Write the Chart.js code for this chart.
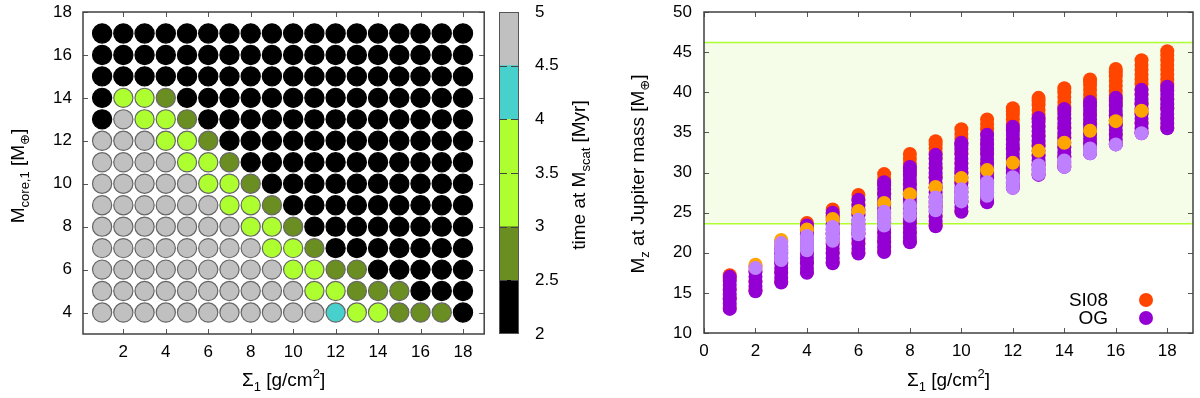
<!DOCTYPE html>
<html>
<head>
<meta charset="utf-8">
<script src="https://cdn.jsdelivr.net/npm/chart.js@4"></script>
<style>
  html, body { margin: 0; padding: 0; background: #fff; }
  body { width: 1200px; height: 398px; position: relative; overflow: hidden; }
  canvas { position: absolute; top: 0; }
</style>
</head>
<body>
<canvas id="gridChart" width="495" height="398" style="left:0px"></canvas>
<canvas id="cbChart" width="110" height="398" style="left:490px"></canvas>
<canvas id="mzChart" width="600" height="398" style="left:600px"></canvas>
<script>
// ---- left panel: time at M_scat for each (sigma, core mass) ----
const sigmaValues = [1, 2, 3, 4, 5, 6, 7, 8, 9, 10, 11, 12, 13, 14, 15, 16, 17, 18];
const coreMasses = [17, 16, 15, 14, 13, 12, 11, 10, 9, 8, 7, 6, 5, 4];
// Myr, one row per core mass (top to bottom)
const scatterTimes = [
  [2.3, 2.3, 2.3, 2.3, 2.3, 2.3, 2.3, 2.3, 2.3, 2.3, 2.3, 2.3, 2.3, 2.3, 2.3, 2.3, 2.3, 2.3],
  [2.3, 2.3, 2.3, 2.3, 2.3, 2.3, 2.3, 2.3, 2.3, 2.3, 2.3, 2.3, 2.3, 2.3, 2.3, 2.3, 2.3, 2.3],
  [2.3, 2.3, 2.3, 2.3, 2.3, 2.3, 2.3, 2.3, 2.3, 2.3, 2.3, 2.3, 2.3, 2.3, 2.3, 2.3, 2.3, 2.3],
  [2.3, 3.4, 3.4, 2.8, 2.3, 2.3, 2.3, 2.3, 2.3, 2.3, 2.3, 2.3, 2.3, 2.3, 2.3, 2.3, 2.3, 2.3],
  [2.3, 4.8, 3.4, 3.4, 2.8, 2.3, 2.3, 2.3, 2.3, 2.3, 2.3, 2.3, 2.3, 2.3, 2.3, 2.3, 2.3, 2.3],
  [4.8, 4.8, 4.8, 3.4, 3.4, 2.8, 2.3, 2.3, 2.3, 2.3, 2.3, 2.3, 2.3, 2.3, 2.3, 2.3, 2.3, 2.3],
  [4.8, 4.8, 4.8, 4.8, 3.4, 3.4, 2.8, 2.3, 2.3, 2.3, 2.3, 2.3, 2.3, 2.3, 2.3, 2.3, 2.3, 2.3],
  [4.8, 4.8, 4.8, 4.8, 4.8, 3.4, 3.4, 2.8, 2.3, 2.3, 2.3, 2.3, 2.3, 2.3, 2.3, 2.3, 2.3, 2.3],
  [4.8, 4.8, 4.8, 4.8, 4.8, 4.8, 3.4, 3.4, 2.8, 2.3, 2.3, 2.3, 2.3, 2.3, 2.3, 2.3, 2.3, 2.3],
  [4.8, 4.8, 4.8, 4.8, 4.8, 4.8, 4.8, 3.4, 3.4, 2.8, 2.3, 2.3, 2.3, 2.3, 2.3, 2.3, 2.3, 2.3],
  [4.8, 4.8, 4.8, 4.8, 4.8, 4.8, 4.8, 4.8, 3.4, 3.4, 2.8, 2.3, 2.3, 2.3, 2.3, 2.3, 2.3, 2.3],
  [4.8, 4.8, 4.8, 4.8, 4.8, 4.8, 4.8, 4.8, 4.8, 3.4, 3.4, 2.8, 2.8, 2.3, 2.3, 2.3, 2.3, 2.3],
  [4.8, 4.8, 4.8, 4.8, 4.8, 4.8, 4.8, 4.8, 4.8, 4.8, 3.4, 3.4, 2.8, 2.8, 2.8, 2.3, 2.3, 2.3],
  [4.8, 4.8, 4.8, 4.8, 4.8, 4.8, 4.8, 4.8, 4.8, 4.8, 4.8, 4.2, 3.4, 3.4, 2.8, 2.8, 2.8, 2.3]
];
const gridXTicks = [2, 4, 6, 8, 10, 12, 14, 16, 18];
const gridYTicks = [4, 6, 8, 10, 12, 14, 16, 18];

// colour bar
const cbLevels = [2, 2.5, 3, 3.5, 4, 4.5, 5];
const cbColors = ['#000000', '#6b8e23', '#adff2f', '#adff2f', '#48d1cc', '#c0c0c0'];

// ---- right panel: M_Z at Jupiter mass ----
const mzSigma = [1, 2, 3, 4, 5, 6, 7, 8, 9, 10, 11, 12, 13, 14, 15, 16, 17, 18];
const si08Values = [
  [13.1, 14.3, 15.5, 16.7, 17.2],
  [15.3, 16.5, 17.7, 18.3],
  [16.4, 17.6, 18.8, 20.0, 20.8, 21.4],
  [17.6, 18.8, 20.0, 21.2, 22.4, 23.1, 23.7],
  [18.8, 20.0, 21.2, 22.4, 23.6, 24.4, 24.9, 25.4],
  [20.0, 21.2, 22.4, 23.6, 24.8, 26.0, 26.6, 27.2],
  [20.2, 21.4, 22.6, 23.8, 25.0, 26.2, 27.4, 28.6, 29.2, 29.8],
  [21.4, 22.6, 23.8, 25.0, 26.2, 27.4, 28.6, 29.8, 30.5, 31.1, 31.7, 32.3],
  [23.4, 24.6, 25.8, 27.0, 28.2, 29.4, 30.6, 31.8, 32.4, 33.0, 33.5, 33.9],
  [25.2, 26.4, 27.6, 28.8, 30.0, 31.2, 32.4, 33.6, 34.2, 34.8, 35.4],
  [26.4, 27.6, 28.8, 30.0, 31.2, 32.4, 33.6, 34.8, 35.4, 36.0, 36.6],
  [28.2, 29.4, 30.6, 31.8, 33.0, 34.2, 35.4, 36.0, 36.6, 37.2, 37.6, 38.0],
  [29.8, 31.0, 32.2, 33.4, 34.6, 35.8, 36.6, 37.2, 37.8, 38.4, 38.9, 39.3],
  [30.8, 32.0, 33.2, 34.4, 35.6, 36.8, 37.6, 38.2, 38.8, 39.4, 40.0, 40.5],
  [32.5, 33.7, 34.9, 36.1, 37.3, 38.5, 39.1, 39.7, 40.3, 40.9, 41.3, 41.6],
  [33.6, 34.8, 36.0, 37.2, 38.4, 39.0, 39.6, 40.2, 40.8, 41.4, 42.0, 42.5, 42.9],
  [35.0, 36.2, 37.4, 38.6, 39.8, 40.4, 41.0, 41.6, 42.2, 42.8, 43.4, 44.0],
  [35.6, 36.8, 38.0, 39.2, 40.4, 41.0, 41.6, 42.2, 42.8, 43.4, 44.0, 44.6, 45.1]
];
const ogValues = [
  [13.0, 13.6, 14.2, 14.8, 15.4, 16.0, 16.5, 17.0],
  [15.2, 15.8, 16.4, 17.0, 17.6],
  [16.3, 16.9, 17.5, 18.1, 18.7, 19.3, 19.9, 20.4],
  [17.5, 18.1, 18.7, 19.3, 19.9, 20.5, 21.1, 21.7, 22.3, 22.9, 23.4],
  [18.7, 19.3, 19.9, 20.5, 21.1, 21.7, 22.3, 22.9, 23.5, 24.1, 24.6, 25.0],
  [19.9, 20.5, 21.1, 21.7, 22.3, 22.9, 23.5, 24.1, 24.7, 25.3, 25.9, 26.6],
  [20.1, 20.7, 21.3, 21.9, 22.5, 23.1, 23.7, 24.3, 24.9, 25.5, 26.1, 26.7, 27.3, 27.9, 28.4, 28.8],
  [21.3, 21.9, 22.5, 23.1, 23.7, 24.3, 24.9, 25.5, 26.1, 26.7, 27.3, 27.9, 28.5, 29.1, 29.7, 30.2, 30.7],
  [23.3, 23.9, 24.5, 25.1, 25.7, 26.3, 26.9, 27.5, 28.1, 28.7, 29.3, 29.9, 30.5, 31.1, 31.7, 32.2],
  [25.1, 25.7, 26.3, 26.9, 27.5, 28.1, 28.7, 29.3, 29.9, 30.5, 31.1, 31.7, 32.3, 32.9, 33.4, 33.7],
  [26.3, 26.9, 27.5, 28.1, 28.7, 29.3, 29.9, 30.5, 31.1, 31.7, 32.3, 32.9, 33.5, 34.1, 34.7],
  [28.1, 28.7, 29.3, 29.9, 30.5, 31.1, 31.7, 32.3, 32.9, 33.5, 34.1, 34.7, 35.2, 35.7],
  [29.7, 30.3, 30.9, 31.5, 32.1, 32.7, 33.3, 33.9, 34.5, 35.1, 35.7, 36.3, 36.8],
  [30.7, 31.3, 31.9, 32.5, 33.1, 33.7, 34.3, 34.9, 35.5, 36.1, 36.7, 37.3, 37.9],
  [32.4, 33.0, 33.6, 34.2, 34.8, 35.4, 36.0, 36.6, 37.2, 37.8, 38.3, 38.8],
  [33.5, 34.1, 34.7, 35.3, 35.9, 36.5, 37.1, 37.7, 38.3, 38.8, 39.3],
  [34.9, 35.5, 36.1, 36.7, 37.3, 37.9, 38.5, 39.1, 39.7, 40.3],
  [35.5, 36.1, 36.7, 37.3, 37.9, 38.5, 39.1, 39.7, 40.2, 40.7]
];
const highlightSigma = [2, 3, 4, 5, 6, 7, 8, 9, 10, 11, 12, 13, 14, 15, 16, 17];
const si08Highlight = [18.5, 21.6, 22.9, 24.2, 25.2, 26.2, 27.3, 28.2, 29.3, 30.3, 31.2, 32.7, 33.7, 35.2, 36.4, 37.7];
const ogHighlight = [
  [18.1],
  [19.1, 19.6, 20.2, 20.7, 21.2],
  [20.3, 20.8, 21.2, 21.7, 22.1],
  [21.5, 21.9, 22.3, 22.8, 23.2],
  [22.3, 22.8, 23.2, 23.7, 24.1],
  [23.4, 23.8, 24.2, 24.7, 25.1],
  [24.6, 25.2, 25.9],
  [25.3, 25.7, 26.1, 26.5, 26.9],
  [26.4, 26.8, 27.1, 27.5, 27.9],
  [27.1, 27.5, 27.9, 28.4, 28.8],
  [28.1, 28.8, 29.4],
  [29.8, 30.4, 30.9],
  [30.7, 31.1, 31.5],
  [32.4, 32.7, 33.0],
  [33.5],
  [34.9]
];
const bandEdges = [23.6, 46.2];
const mzXTicks = [0, 2, 4, 6, 8, 10, 12, 14, 16, 18];
const mzYTicks = [10, 15, 20, 25, 30, 35, 40, 45, 50];

const FONT = '"Liberation Sans", Arial, "DejaVu Sans", sans-serif';
const tickFont = { family: FONT, size: 17 };
const TITLE_SIZE = 19;
const SUB_SIZE = 13;

function bandColor(t) {
  for (let i = 0; i < cbColors.length; i++) {
    if (t >= cbLevels[i] && t < cbLevels[i + 1]) return cbColors[i];
  }
  return cbColors[cbColors.length - 1];
}

// text with sub/superscripts, centred on (x, y)
function drawRich(ctx, parts, x, y, rotated) {
  ctx.save();
  ctx.translate(x, y);
  if (rotated) ctx.rotate(-Math.PI / 2);
  ctx.fillStyle = '#000';
  ctx.textBaseline = 'alphabetic';
  ctx.textAlign = 'left';
  let total = 0;
  parts.forEach(p => {
    ctx.font = (p.sub || p.sup ? SUB_SIZE : TITLE_SIZE) + 'px ' + FONT;
    p.w = ctx.measureText(p.t).width;
    total += p.w;
  });
  let cx = -total / 2;
  parts.forEach(p => {
    ctx.font = (p.sub || p.sup ? SUB_SIZE : TITLE_SIZE) + 'px ' + FONT;
    const dy = p.sub ? 5 : (p.sup ? -8 : 0);
    ctx.fillText(p.t, cx, 7 + dy);
    cx += p.w;
  });
  ctx.restore();
}

const sigmaTitle = [{ t: 'Σ' }, { t: '1', sub: true }, { t: ' [g/cm' }, { t: '2', sup: true }, { t: ']' }];

// box frame with inward ticks on all four sides (gnuplot style)
function framePlugin(xTicks, yTicks, extra) {
  return {
    id: 'frame',
    afterDatasetsDraw(chart) {
      const { ctx, chartArea: a, scales } = chart;
      ctx.save();
      ctx.strokeStyle = '#555';
      ctx.lineWidth = 1;
      ctx.beginPath();
      xTicks.forEach(v => {
        const px = Math.round(scales.x.getPixelForValue(v)) + 0.5;
        ctx.moveTo(px, a.bottom); ctx.lineTo(px, a.bottom - 5);
        ctx.moveTo(px, a.top); ctx.lineTo(px, a.top + 5);
      });
      yTicks.forEach(v => {
        const py = Math.round(scales.y.getPixelForValue(v)) + 0.5;
        ctx.moveTo(a.left, py); ctx.lineTo(a.left + 5, py);
        ctx.moveTo(a.right, py); ctx.lineTo(a.right - 5, py);
      });
      ctx.stroke();
      ctx.strokeStyle = '#404040';
      ctx.lineWidth = 1.5;
      ctx.strokeRect(a.left, a.top, a.right - a.left, a.bottom - a.top);
      ctx.restore();
      if (extra) extra(chart);
    }
  };
}

function setTicks(list) {
  return scale => { scale.ticks = list.map(v => ({ value: v })); };
}
// fixed axis sizes, no extra label overhang padding
function fixY(width) {
  return s => { s.width = width; s.paddingTop = 0; s.paddingBottom = 0; };
}
function fixX(height) {
  return s => { s.height = height; s.paddingLeft = 0; s.paddingRight = 0; };
}

// ---------- left grid ----------
const gridPoints = [];
coreMasses.forEach((m, r) => {
  sigmaValues.forEach((s, c) => {
    gridPoints.push({ x: s, y: m, t: scatterTimes[r][c] });
  });
});

new Chart(document.getElementById('gridChart'), {
  type: 'scatter',
  data: {
    datasets: [{
      data: gridPoints,
      pointRadius: 9.6,
      pointBorderWidth: 1.2,
      backgroundColor: ctx => bandColor(ctx.raw.t),
      borderColor: ctx => (ctx.raw.t < 2.5 ? '#000' : '#666')
    }]
  },
  options: {
    responsive: false,
    animation: false,
    layout: { padding: { top: 12, right: 6, left: 0, bottom: 0 } },
    plugins: { legend: { display: false }, tooltip: { enabled: false } },
    scales: {
      x: {
        type: 'linear', min: 0.1, max: 19,
        afterBuildTicks: setTicks(gridXTicks),
        afterFit: fixX(64),
        grid: { display: false, drawTicks: false },
        border: { display: false },
        ticks: { font: tickFont, color: '#000', padding: 8, maxRotation: 0 }
      },
      y: {
        type: 'linear', min: 3, max: 18,
        afterBuildTicks: setTicks(gridYTicks),
        afterFit: fixY(83),
        grid: { display: false, drawTicks: false },
        border: { display: false },
        ticks: { font: tickFont, color: '#000', padding: 11 }
      }
    }
  },
  plugins: [framePlugin(gridXTicks, gridYTicks, chart => {
    const a = chart.chartArea;
    drawRich(chart.ctx, sigmaTitle, (a.left + a.right) / 2, 379, false);
    drawRich(chart.ctx, [{ t: 'M' }, { t: 'core,1', sub: true }, { t: ' [M' }, { t: '⊕', sub: true }, { t: ']' }], 17, 176, true);
  })]
});

// ---------- colour bar ----------
new Chart(document.getElementById('cbChart'), {
  type: 'bar',
  data: {
    labels: [''],
    datasets: cbColors.map((col, i) => ({
      data: [[cbLevels[i], cbLevels[i + 1]]],
      backgroundColor: col,
      borderWidth: 0,
      barPercentage: 1,
      categoryPercentage: 1
    }))
  },
  options: {
    responsive: false,
    animation: false,
    layout: { padding: { top: 12, left: 9, right: 0, bottom: 64 } },
    plugins: { legend: { display: false }, tooltip: { enabled: false } },
    scales: {
      x: { display: false, stacked: true },
      y: {
        position: 'right', min: 2, max: 5,
        afterBuildTicks: setTicks(cbLevels),
        afterFit: fixY(81),
        grid: { display: false, drawTicks: false },
        border: { display: false },
        ticks: { font: tickFont, color: '#000', padding: 16, callback: v => String(v) }
      }
    }
  },
  plugins: [{
    id: 'cbFrame',
    afterDatasetsDraw(chart) {
      const { ctx, chartArea: a, scales } = chart;
      ctx.save();
      ctx.strokeStyle = '#444';
      ctx.lineWidth = 1.2;
      ctx.beginPath();
      cbLevels.slice(1, -1).forEach(v => {
        const py = Math.round(scales.y.getPixelForValue(v)) + 0.5;
        ctx.moveTo(a.left, py); ctx.lineTo(a.left + 8, py);
        ctx.moveTo(a.right, py); ctx.lineTo(a.right - 8, py);
      });
      ctx.stroke();
      ctx.lineWidth = 1;
      ctx.strokeStyle = '#555';
      ctx.strokeRect(a.left + 0.5, a.top + 0.5, a.right - a.left - 1, a.bottom - a.top - 1);
      ctx.restore();
      drawRich(ctx, [{ t: 'time at M' }, { t: 'scat', sub: true }, { t: ' [Myr]' }], 88, 175, true);
    }
  }]
});

// ---------- right panel ----------
function flatten(xs, nested) {
  const out = [];
  xs.forEach((x, i) => nested[i].forEach(v => out.push({ x: x, y: v })));
  return out;
}

new Chart(document.getElementById('mzChart'), {
  type: 'scatter',
  data: {
    datasets: [
      {
        label: 'band top', type: 'line', showLine: true,
        data: [{ x: 0, y: bandEdges[1] }, { x: 19, y: bandEdges[1] }],
        borderColor: '#adff2f', borderWidth: 1.5, pointRadius: 0,
        backgroundColor: '#f5fde9', fill: '+1', order: 10
      },
      {
        label: 'band bottom', type: 'line', showLine: true,
        data: [{ x: 0, y: bandEdges[0] }, { x: 19, y: bandEdges[0] }],
        borderColor: '#adff2f', borderWidth: 1.5, pointRadius: 0,
        fill: false, order: 9
      },
      {
        label: 'SI08', data: flatten(mzSigma, si08Values),
        backgroundColor: '#ff4500', pointRadius: 7, pointBorderWidth: 0, order: 4
      },
      {
        label: 'OG', data: flatten(mzSigma, ogValues),
        backgroundColor: '#9400d3', pointRadius: 7, pointBorderWidth: 0, order: 3
      },
      {
        label: 'SI08 marked', data: highlightSigma.map((x, i) => ({ x: x, y: si08Highlight[i] })),
        backgroundColor: '#ffa500', pointRadius: 7, pointBorderWidth: 0, order: 2
      },
      {
        label: 'OG marked', data: flatten(highlightSigma, ogHighlight),
        backgroundColor: '#bf80ff', pointRadius: 7, pointBorderWidth: 0, order: 1
      }
    ]
  },
  options: {
    responsive: false,
    animation: false,
    layout: { padding: { top: 12, right: 7, left: 0, bottom: 0 } },
    plugins: { legend: { display: false }, tooltip: { enabled: false } },
    scales: {
      x: {
        type: 'linear', min: 0, max: 19,
        afterBuildTicks: setTicks(mzXTicks),
        afterFit: fixX(65),
        grid: { display: false, drawTicks: false },
        border: { display: false },
        ticks: { font: tickFont, color: '#000', padding: 8, maxRotation: 0 }
      },
      y: {
        type: 'linear', min: 10, max: 50,
        afterBuildTicks: setTicks(mzYTicks),
        afterFit: fixY(104),
        grid: { display: false, drawTicks: false },
        border: { display: false },
        ticks: { font: tickFont, color: '#000', padding: 12 }
      }
    }
  },
  plugins: [framePlugin(mzXTicks, mzYTicks, chart => {
    const { ctx, chartArea: a } = chart;
    drawRich(ctx, sigmaTitle, (a.left + a.right) / 2, 379, false);
    drawRich(ctx, [{ t: 'M' }, { t: 'z', sub: true }, { t: ' at Jupiter mass [M' }, { t: '⊕', sub: true }, { t: ']' }], 37, 174, true);
    // legend: label text on the left, marker on the right
    const entries = chart.data.datasets.filter(d => d.label === 'SI08' || d.label === 'OG');
    ctx.save();
    ctx.font = TITLE_SIZE + 'px ' + FONT;
    ctx.textAlign = 'right';
    ctx.textBaseline = 'middle';
    entries.forEach((d, i) => {
      const y = 300 + i * 18;
      ctx.fillStyle = '#000';
      ctx.fillText(d.label, 508, y + 1);
      ctx.fillStyle = d.backgroundColor;
      ctx.beginPath();
      ctx.arc(546, y, 7, 0, Math.PI * 2);
      ctx.fill();
    });
    ctx.restore();
  })]
});
</script>
</body>
</html>
